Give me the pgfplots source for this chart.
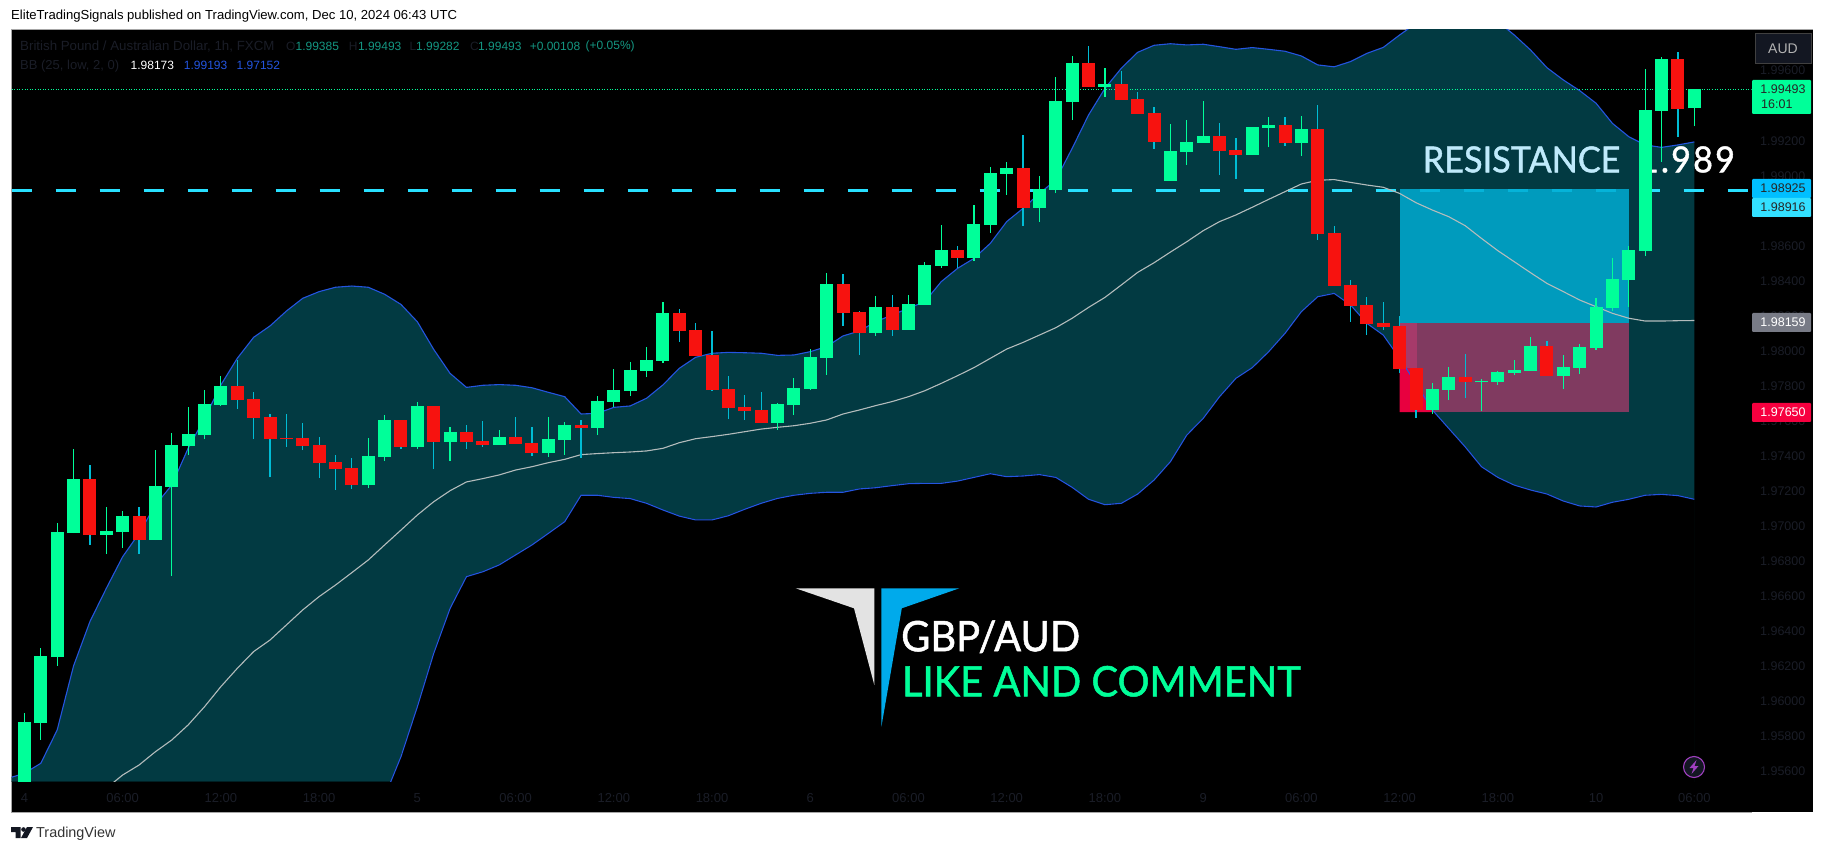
\documentclass[border=0pt]{standalone}
\usepackage{fontspec}
\setmainfont{Liberation Sans}
\newfontfamily\bigfont[FakeBold=1.2,FakeStretch=0.95]{Lato}
\usepackage{pgfplots}
\usepackage{pgfplotstable}
\pgfplotsset{compat=1.18}

\definecolor{bullc}{HTML}{00FF99}
\definecolor{bearc}{HTML}{F7120F}
\definecolor{bearw}{HTML}{00BCD4}
\definecolor{bandc}{HTML}{023A42}
\definecolor{bbline}{HTML}{2455E0}
\definecolor{midc}{HTML}{B4BCBC}
\definecolor{dashc}{HTML}{28E0FF}
\definecolor{dimc}{HTML}{1A1D27}
\definecolor{valc}{RGB}{20,150,130}
\definecolor{ticker}{HTML}{131722}
\definecolor{posblue}{RGB}{0,172,211}
\definecolor{pospink}{RGB}{128,58,96}
\definecolor{posstrip}{RGB}{166,58,106}
\definecolor{poscrim}{RGB}{232,0,63}
\definecolor{logoblue}{RGB}{0,170,235}
\definecolor{badge}{RGB}{160,64,192}
\definecolor{boxa}{RGB}{0,191,255}
\definecolor{boxb}{RGB}{51,224,255}
\definecolor{boxg}{RGB}{120,123,134}
\definecolor{boxr}{RGB}{247,0,63}

% hourly candles, x = bar number
\pgfplotstableread{
x open high low close
0 1.95491 1.95929 1.95472 1.95880
1 1.95874 1.96303 1.95777 1.96257
2 1.96251 1.97016 1.96200 1.96965
3 1.96959 1.97439 1.96959 1.97268
5 1.96948 1.97108 1.96839 1.96971
6 1.96965 1.97085 1.96874 1.97056
8 1.96919 1.97433 1.96919 1.97228
9 1.97222 1.97531 1.96714 1.97462
10 1.97456 1.97677 1.97405 1.97525
11 1.97519 1.97776 1.97496 1.97696
12 1.97690 1.97856 1.97685 1.97799
21 1.97233 1.97502 1.97216 1.97399
22 1.97393 1.97633 1.97371 1.97605
24 1.97451 1.97708 1.97439 1.97685
26 1.97479 1.97565 1.97371 1.97536
29 1.97462 1.97548 1.97462 1.97508
32 1.97416 1.97622 1.97393 1.97496
33 1.97491 1.97593 1.97405 1.97576
35 1.97559 1.97742 1.97519 1.97713
36 1.97708 1.97896 1.97679 1.97776
37 1.97770 1.97936 1.97742 1.97890
38 1.97885 1.98022 1.97850 1.97948
39 1.97942 1.98279 1.97930 1.98216
46 1.97588 1.97702 1.97548 1.97696
47 1.97690 1.97845 1.97633 1.97788
48 1.97782 1.98010 1.97776 1.97965
49 1.97959 1.98444 1.97862 1.98382
52 1.98102 1.98313 1.98085 1.98250
54 1.98119 1.98319 1.98119 1.98267
55 1.98262 1.98507 1.98262 1.98490
56 1.98484 1.98719 1.98473 1.98576
58 1.98530 1.98833 1.98513 1.98724
59 1.98719 1.99050 1.98673 1.99016
60 1.99010 1.99079 1.98890 1.99044
62 1.98816 1.98999 1.98736 1.98924
63 1.98919 1.99564 1.98901 1.99427
64 1.99421 1.99684 1.99318 1.99644
66 1.99507 1.99615 1.99450 1.99524
70 1.98970 1.99295 1.98970 1.99141
71 1.99136 1.99318 1.99061 1.99193
72 1.99187 1.99427 1.99187 1.99227
75 1.99118 1.99278 1.99118 1.99278
76 1.99273 1.99336 1.99164 1.99290
78 1.99187 1.99341 1.99113 1.99267
86 1.97662 1.97816 1.97639 1.97782
87 1.97776 1.97908 1.97719 1.97850
89 1.97822 1.97839 1.97656 1.97828
90 1.97822 1.97885 1.97805 1.97879
91 1.97873 1.97948 1.97862 1.97890
92 1.97885 1.98079 1.97885 1.98027
94 1.97856 1.97976 1.97782 1.97908
95 1.97902 1.98039 1.97867 1.98022
96 1.98016 1.98302 1.98005 1.98250
97 1.98244 1.98530 1.98227 1.98410
98 1.98404 1.98599 1.98250 1.98576
99 1.98570 1.99610 1.98541 1.99375
100 1.99370 1.99678 1.99079 1.99667
102 1.99385 1.99493 1.99282 1.99493
}\bulltable

\pgfplotstableread{
x open high low close
4 1.97268 1.97348 1.96891 1.96948
7 1.97056 1.97108 1.96839 1.96919
13 1.97799 1.97948 1.97668 1.97719
14 1.97725 1.97765 1.97496 1.97616
15 1.97622 1.97639 1.97279 1.97496
16 1.97502 1.97639 1.97451 1.97496
17 1.97502 1.97588 1.97433 1.97456
18 1.97462 1.97508 1.97274 1.97359
19 1.97365 1.97405 1.97205 1.97325
20 1.97331 1.97388 1.97211 1.97233
23 1.97605 1.97605 1.97439 1.97451
25 1.97685 1.97685 1.97325 1.97479
27 1.97536 1.97576 1.97439 1.97479
28 1.97485 1.97599 1.97451 1.97462
30 1.97508 1.97622 1.97468 1.97468
31 1.97473 1.97565 1.97399 1.97416
34 1.97576 1.97605 1.97388 1.97559
40 1.98216 1.98239 1.98050 1.98113
41 1.98119 1.98159 1.97970 1.97970
42 1.97976 1.98113 1.97770 1.97776
43 1.97782 1.97856 1.97610 1.97673
44 1.97679 1.97748 1.97605 1.97656
45 1.97662 1.97765 1.97588 1.97588
50 1.98382 1.98439 1.98142 1.98216
51 1.98222 1.98227 1.97976 1.98102
53 1.98250 1.98319 1.98085 1.98119
57 1.98576 1.98599 1.98473 1.98530
61 1.99044 1.99233 1.98713 1.98816
65 1.99644 1.99741 1.99507 1.99507
67 1.99524 1.99598 1.99433 1.99433
68 1.99438 1.99478 1.99353 1.99353
69 1.99358 1.99393 1.99153 1.99193
73 1.99227 1.99301 1.99004 1.99141
74 1.99147 1.99215 1.98981 1.99118
77 1.99290 1.99336 1.99170 1.99187
79 1.99267 1.99404 1.98633 1.98667
80 1.98673 1.98713 1.98370 1.98370
81 1.98376 1.98404 1.98165 1.98256
82 1.98262 1.98307 1.98090 1.98153
83 1.98159 1.98279 1.98119 1.98136
84 1.98142 1.98199 1.97873 1.97896
85 1.97902 1.97902 1.97616 1.97662
88 1.97850 1.97982 1.97730 1.97822
93 1.98027 1.98056 1.97856 1.97856
101 1.99667 1.99707 1.99221 1.99381
}\beartable

% Bollinger upper
\pgfplotstableread{
x y
-1 1.95558
0 1.95587
1 1.95644
2 1.95834
3 1.96200
4 1.96453
5 1.96643
6 1.96824
7 1.96957
8 1.97119
9 1.97233
10 1.97443
11 1.97614
12 1.97805
13 1.97957
14 1.98077
15 1.98142
16 1.98227
17 1.98300
18 1.98338
19 1.98363
20 1.98370
21 1.98363
22 1.98323
23 1.98265
24 1.98166
25 1.98008
26 1.97871
27 1.97791
28 1.97803
29 1.97807
30 1.97803
31 1.97789
32 1.97763
33 1.97738
34 1.97639
35 1.97643
36 1.97677
37 1.97685
38 1.97729
39 1.97805
40 1.97900
41 1.97963
42 1.97986
43 1.97991
44 1.97989
45 1.97986
46 1.97974
47 1.97976
48 1.97995
49 1.98024
50 1.98085
51 1.98113
52 1.98166
53 1.98205
54 1.98243
55 1.98281
56 1.98395
57 1.98471
58 1.98528
59 1.98614
60 1.98738
61 1.98814
62 1.98899
63 1.98976
64 1.99157
65 1.99347
66 1.99499
67 1.99614
68 1.99705
69 1.99745
70 1.99754
71 1.99747
72 1.99751
73 1.99737
74 1.99722
75 1.99732
76 1.99722
77 1.99711
78 1.99684
79 1.99633
80 1.99622
81 1.99652
82 1.99699
83 1.99733
84 1.99804
85 1.99870
86 1.99899
87 1.99918
88 1.99928
89 1.99918
90 1.99880
91 1.99804
92 1.99718
93 1.99617
94 1.99547
95 1.99486
96 1.99414
97 1.99299
98 1.99223
99 1.99176
100 1.99162
101 1.99176
102 1.99193
}\upperband

% Bollinger lower, below the pane until bar 22 (those rows are guesses)
\pgfplotstableread{
x y
-1 1.93000
10 1.93000
15 1.93800
19 1.94650
20 1.94901
21 1.95187
22 1.95453
23 1.95682
24 1.95967
25 1.96272
26 1.96529
27 1.96710
28 1.96738
29 1.96777
30 1.96834
31 1.96891
32 1.96957
33 1.97024
34 1.97175
35 1.97175
36 1.97163
37 1.97156
38 1.97129
39 1.97091
40 1.97056
41 1.97034
42 1.97034
43 1.97058
44 1.97095
45 1.97129
46 1.97157
47 1.97175
48 1.97186
49 1.97192
50 1.97192
51 1.97211
52 1.97218
53 1.97230
54 1.97241
55 1.97243
56 1.97243
57 1.97256
58 1.97277
59 1.97298
60 1.97281
61 1.97285
62 1.97293
63 1.97277
64 1.97220
65 1.97152
66 1.97121
67 1.97129
68 1.97182
69 1.97262
70 1.97367
71 1.97519
72 1.97614
73 1.97738
74 1.97843
75 1.97904
76 1.97995
77 1.98100
78 1.98224
79 1.98309
80 1.98328
81 1.98262
82 1.98157
83 1.98090
84 1.97957
85 1.97814
86 1.97662
87 1.97557
88 1.97452
89 1.97338
90 1.97277
91 1.97233
92 1.97205
93 1.97182
94 1.97142
95 1.97114
96 1.97108
97 1.97135
98 1.97152
99 1.97175
100 1.97180
101 1.97173
102 1.97152
}\lowerband

% Bollinger basis
\pgfplotstableread{
x y
5 1.95501
6 1.95577
7 1.95634
8 1.95710
9 1.95777
10 1.95863
11 1.95967
12 1.96082
13 1.96186
14 1.96282
15 1.96348
16 1.96434
17 1.96520
18 1.96596
19 1.96662
20 1.96733
21 1.96805
22 1.96891
23 1.96976
24 1.97062
25 1.97138
26 1.97201
27 1.97251
28 1.97270
29 1.97291
30 1.97319
31 1.97338
32 1.97361
33 1.97380
34 1.97407
35 1.97413
36 1.97418
37 1.97422
38 1.97428
39 1.97443
40 1.97475
41 1.97498
42 1.97510
43 1.97523
44 1.97538
45 1.97553
46 1.97563
47 1.97572
48 1.97586
49 1.97605
50 1.97639
51 1.97662
52 1.97687
53 1.97710
54 1.97738
55 1.97772
56 1.97814
57 1.97858
58 1.97904
59 1.97957
60 1.98010
61 1.98048
62 1.98090
63 1.98132
64 1.98186
65 1.98248
66 1.98305
67 1.98376
68 1.98448
69 1.98503
70 1.98564
71 1.98623
72 1.98686
73 1.98738
74 1.98776
75 1.98820
76 1.98865
77 1.98909
78 1.98953
79 1.98974
80 1.98978
81 1.98962
82 1.98947
83 1.98934
84 1.98899
85 1.98846
86 1.98804
87 1.98766
88 1.98715
89 1.98642
90 1.98572
91 1.98509
92 1.98446
93 1.98385
94 1.98338
95 1.98290
96 1.98252
97 1.98214
98 1.98186
99 1.98170
100 1.98170
101 1.98172
102 1.98173
}\midband

% text at picture pixels, y counted from the top
\newcommand{\tl}[4]{\node[anchor=west,inner sep=0pt,text=#1,font=\fontsize{12}{12}\selectfont] at (#2,{852-#3}) {#4};}
\newcommand{\tls}[5]{\node[anchor=west,inner sep=0pt,text=#2,font=\fontsize{#1}{#1}\selectfont] at (#3,{852-#4}) {#5};}
\newcommand{\pricebox}[5]{%
  \fill[#1,rounded corners=1pt] (1752,{852-#2}) rectangle (1811,{852-#3});
  \node[text=#4,inner sep=0pt,font=\fontsize{12.5}{12.5}\selectfont] at (1783,{852-(#2+#3)/2}) {#5};}

\begin{document}
\begin{tikzpicture}[x=1pt,y=1pt]
\fill[white] (0,0) rectangle (1825,852);
\fill[black] (11.5,40) rectangle (1813,822);
\draw[black!35,line width=1pt] (11,40) -- (11,822.5) -- (1813,822.5);
\draw[black!35,line width=1pt] (11,40) -- (1751.6,40);

\begin{axis}[
  at={(11.5pt,70pt)}, anchor=south west,
  scale only axis, width=1740.1pt, height=752pt,
  xmin=-0.79, xmax=105.5, ymin=1.955371, ymax=1.998325,
  axis line style={draw=none},
  tick style={draw=none},
  xtick={0,6,12,18,24,30,36,42,48,54,60,66,72,78,84,90,96,102},
  xticklabels={4,06:00,12:00,18:00,5,06:00,12:00,18:00,6,06:00,12:00,18:00,9,06:00,12:00,18:00,10,06:00},
  xticklabel style={text=dimc,font=\fontsize{13}{13}\selectfont,yshift=-8pt},
  ytick={1.956,1.958,1.960,1.962,1.964,1.966,1.968,1.970,1.972,1.974,1.976,1.978,1.980,1.982,1.984,1.986,1.988,1.990,1.992,1.994,1.996},
  yticklabel pos=right,
  scaled y ticks=false,
  yticklabel style={text=dimc,font=\fontsize{12.5}{12.5}\selectfont,anchor=west,xshift=5pt,
    /pgf/number format/fixed,/pgf/number format/fixed zerofill,/pgf/number format/precision=5,
    /pgf/number format/assume math mode=true},
  candle/.style={draw=none,mark=none,forget plot,error bars/.cd,y dir=plus,y explicit,error mark=none},
]
% band: area under the upper line, then black under the lower line
\addplot[fill=bandc,draw=none,forget plot] table[x=x,y=y] {\upperband} \closedcycle;
\addplot[fill=black,draw=black,line width=0.8pt,forget plot] table[x=x,y=y] {\lowerband} \closedcycle;

% resistance line and its label
\addplot[dashc,line width=3.6pt,dash pattern=on 20pt off 24pt,forget plot] coordinates {(-0.79,1.98916) (105.5,1.98916)};
\node[text=white,inner sep=0pt,font=\bigfont\addfontfeature{LetterSpace=6}\fontsize{36}{36}\selectfont] at (axis cs:101.55,1.99093) {1.989};
\node[text=cyan!25!white,inner sep=0pt,font=\bigfont\fontsize{36}{36}\selectfont] at (axis cs:91.45,1.99093) {RESISTANCE};

% position tool
\addplot[fill=posblue,fill opacity=0.85,draw=none,forget plot] coordinates {(84,1.98925) (98,1.98925) (98,1.98159) (84,1.98159)} -- cycle;
\addplot[fill=pospink,draw=none,forget plot] coordinates {(84,1.98159) (98,1.98159) (98,1.97650) (84,1.97650)} -- cycle;
\addplot[fill=posstrip,draw=none,forget plot] coordinates {(84,1.98159) (85.05,1.98159) (85.05,1.97900) (84,1.97900)} -- cycle;
\addplot[fill=poscrim,draw=none,forget plot] coordinates {(84,1.97900) (85.05,1.97900) (85.05,1.97810) (86.15,1.97650) (84,1.97650)} -- cycle;

% lines
\addplot[midc,line width=1.1pt,forget plot] table[x=x,y=y] {\midband};
\addplot[bbline,line width=1.1pt,forget plot] table[x=x,y=y] {\upperband};
\addplot[bbline,line width=1.1pt,forget plot] table[x=x,y=y] {\lowerband};
\addplot[bullc,line width=0.8pt,dash pattern=on 1pt off 1.6pt,forget plot] coordinates {(-0.79,1.99493) (105.5,1.99493)};

% wicks, then bodies
\addplot[candle,error bar style={bullc,line width=1.2pt}] table[x=x,y=low,y error plus expr=\thisrow{high}-\thisrow{low}] {\bulltable};
\addplot[candle,error bar style={bearw,line width=1.2pt}] table[x=x,y=low,y error plus expr=\thisrow{high}-\thisrow{low}] {\beartable};
\addplot[candle,error bar style={bullc,line width=13pt}] table[x=x,y=open,y error plus expr=\thisrow{close}-\thisrow{open}] {\bulltable};
\addplot[candle,error bar style={bearc,line width=13pt}] table[x=x,y=close,y error plus expr=\thisrow{open}-\thisrow{close}] {\beartable};
\end{axis}

% header and footer
\tls{13.1}{black}{11}{16.5}{EliteTradingSignals published on TradingView.com, Dec 10, 2024 06:43 UTC}
\tls{14.4}{black!80}{36}{833.5}{TradingView}
\fill[ticker] (11,{852-827}) -- (20.5,{852-827}) -- (20.5,{852-838}) -- (15.5,{852-838}) -- (15.5,{852-832}) -- (11,{852-832}) -- cycle;
\fill[ticker] (23.5,{852-829.5}) circle (2.3);
\fill[ticker] (27,{852-827}) -- (33,{852-827}) -- (27,{852-838}) -- (21,{852-838}) -- cycle;

% indicator legend
\tls{13.3}{dimc}{20}{46.5}{British Pound / Australian Dollar, 1h, FXCM}
\tl{dimc}{286}{46.5}{O}\tl{valc}{295.4}{46.5}{1.99385}
\tl{dimc}{348.6}{46.5}{H}\tl{valc}{357.8}{46.5}{1.99493}
\tl{dimc}{409.5}{46.5}{L}\tl{valc}{416}{46.5}{1.99282}
\tl{dimc}{470}{46.5}{C}\tl{valc}{478}{46.5}{1.99493}
\tl{valc}{529.6}{46.5}{+0.00108}
\tl{valc}{585.5}{46.5}{(+0.05\%)}
\tls{13}{dimc}{20}{65.7}{BB (25, low, 2, 0)}
\tl{white}{130.5}{65.7}{1.98173}
\tl{bbline}{183.7}{65.7}{1.99193}
\tl{bbline}{236.5}{65.7}{1.97152}

% watermark
\fill[black!11] (795.7,263.7) -- (874.3,263.7) -- (874.3,167) -- (854,243.7) -- cycle;
\fill[logoblue] (881.4,263.7) -- (959.3,263.7) -- (901.8,243.7) -- (881.4,125.3) -- cycle;
\node[anchor=west,inner sep=0pt,text=white,font=\bigfont\fontsize{42}{42}\selectfont] at (901,{852-636.7}) {GBP/AUD};
\node[anchor=west,inner sep=0pt,text=bullc,font=\bigfont\fontsize{42}{42}\selectfont] at (901.8,{852-681.3}) {LIKE AND COMMENT};

% price scale boxes
\fill[ticker,draw=black!75] (1755,{852-33}) rectangle (1811,{852-63});
\node[text=black!30,inner sep=0pt,font=\fontsize{14}{14}\selectfont] at (1783,{852-48.5}) {AUD};
\fill[bullc,rounded corners=1pt] (1752,{852-80}) rectangle (1811,{852-114});
\node[text=black!85,inner sep=0pt,font=\fontsize{12.5}{12.5}\selectfont] at (1783,{852-89.5}) {1.99493};
\node[text=black!85,inner sep=0pt,font=\fontsize{12.5}{12.5}\selectfont,anchor=west] at (1761,{852-104.5}) {16:01};
\pricebox{boxa}{179}{198}{black!85}{1.98925}
\pricebox{boxb}{198}{217}{black!85}{1.98916}
\pricebox{boxg}{313}{332}{white}{1.98159}
\pricebox{boxr}{403}{422}{white}{1.97650}

% lightning badge
\draw[badge,line width=1.1pt,fill=ticker] (1694,{852-767}) circle (10.5);
\fill[badge] (1696.5,{852-760}) -- (1689.5,{852-768}) -- (1693.5,{852-768}) -- (1691.5,{852-774}) -- (1698.5,{852-766}) -- (1694.5,{852-766}) -- cycle;
\end{tikzpicture}
\end{document}
